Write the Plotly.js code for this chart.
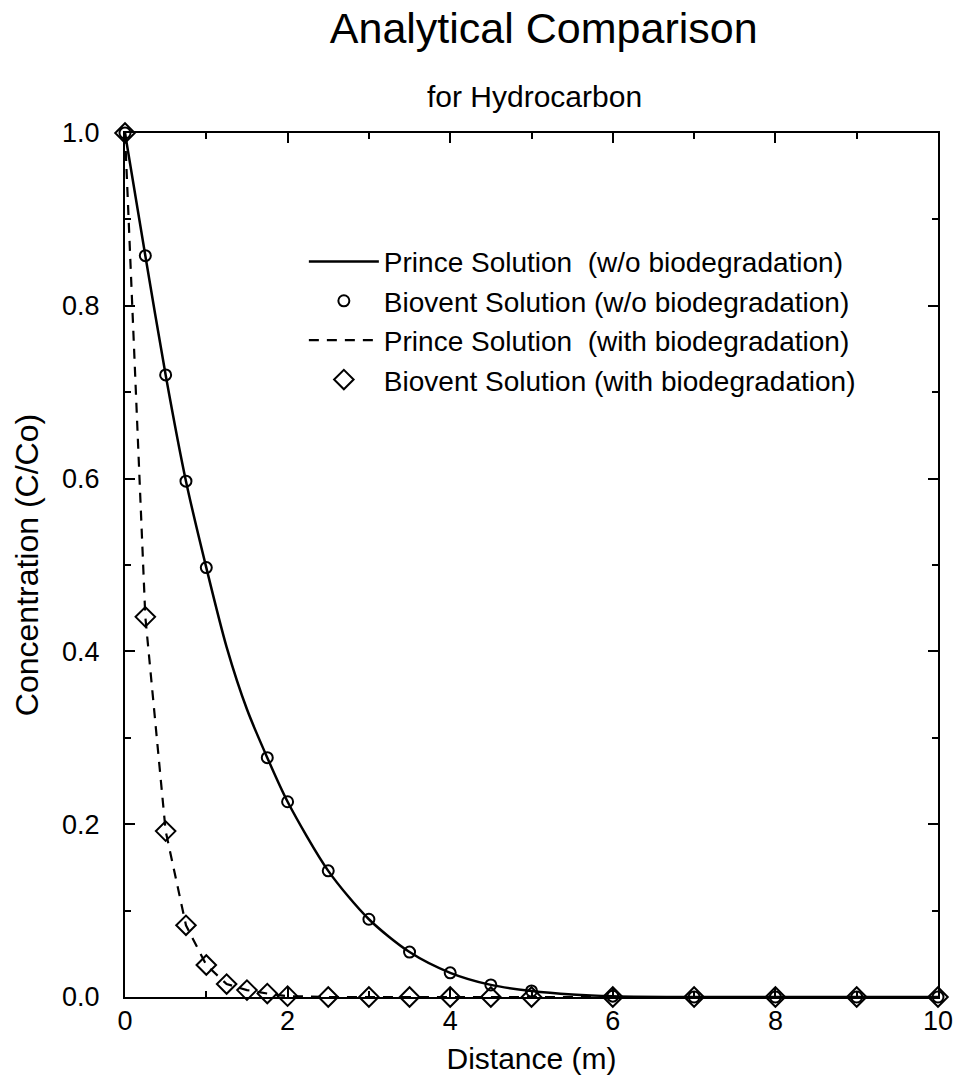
<!DOCTYPE html>
<html>
<head>
<meta charset="utf-8">
<script src="https://cdn.plot.ly/plotly-3.0.1.min.js"></script>
<style>html,body{margin:0;padding:0;background:#fff;}#chart{width:955px;height:1084px;}</style>
</head>
<body>
<div id="chart"></div>
<script>
// Prince solution (w/o biodegradation) - solid curve
const princeDist = [0, 0.25, 0.5, 0.75, 1.0, 1.25, 1.5, 1.75, 2.0, 2.5, 3.0, 3.5, 4.0, 4.5, 5.0, 5.5, 6, 7, 8, 9, 10];
const princeConc = [1.0, 0.858, 0.72, 0.597, 0.497, 0.405, 0.333, 0.277, 0.226, 0.146, 0.090, 0.052, 0.028, 0.014, 0.007, 0.003, 0.001, 0, 0, 0, 0];
// Biovent solution (w/o biodegradation) - circles
const bioventDist = [0, 0.25, 0.5, 0.75, 1.0, 1.75, 2.0, 2.5, 3.0, 3.5, 4.0, 4.5, 5.0, 6, 7, 8, 9, 10];
const bioventConc = [1.0, 0.858, 0.72, 0.597, 0.497, 0.277, 0.226, 0.146, 0.090, 0.052, 0.028, 0.014, 0.007, 0.001, 0, 0, 0, 0];
// Prince solution (with biodegradation) - dashed curve
const princeBioDist = [0, 0.25, 0.5, 0.75, 1.0, 1.25, 1.5, 1.75, 2.0, 2.5, 3.0, 3.5, 4.0, 4.5, 5.0, 6, 7, 8, 9, 10];
const princeBioConc = [1.0, 0.44, 0.192, 0.083, 0.037, 0.015, 0.008, 0.004, 0.001, 0, 0, 0, 0, 0, 0, 0, 0, 0, 0, 0];
// Biovent solution (with biodegradation) - diamonds
const bioventBioDist = [0, 0.25, 0.5, 0.75, 1.0, 1.25, 1.5, 1.75, 2.0, 2.5, 3.0, 3.5, 4.0, 4.5, 5.0, 6, 7, 8, 9, 10];
const bioventBioConc = [1.0, 0.44, 0.192, 0.083, 0.037, 0.015, 0.008, 0.004, 0.001, 0, 0, 0, 0, 0, 0, 0, 0, 0, 0, 0];

const titleText = 'Analytical Comparison';
const subtitleText = 'for Hydrocarbon';
const xTitle = 'Distance (m)';
const yTitle = 'Concentration (C/Co)';

const FONT = 'Liberation Sans, Arial, Helvetica, sans-serif';

const traces = [
  {x: princeDist, y: princeConc, mode: 'lines', name: 'Prince Solution  (w/o biodegradation)',
   line: {color: '#000', width: 2.5, shape: 'spline', smoothing: 0.8}, cliponaxis: false},
  {x: bioventDist, y: bioventConc, mode: 'markers', name: 'Biovent Solution (w/o biodegradation)',
   marker: {symbol: 'circle-open', size: 11, color: '#000', line: {width: 2, color: '#000'}}, cliponaxis: false},
  {x: princeBioDist, y: princeBioConc, mode: 'lines', name: 'Prince Solution  (with biodegradation)',
   line: {color: '#000', width: 2.2, dash: '10px,8px'}, cliponaxis: false},
  {x: bioventBioDist, y: bioventBioConc, mode: 'markers', name: 'Biovent Solution (with biodegradation)',
   marker: {symbol: 'diamond-open', size: 15, color: '#000', line: {width: 2, color: '#000'}}, cliponaxis: false}
];

const layout = {
  width: 955, height: 1084,
  paper_bgcolor: '#fff', plot_bgcolor: '#fff',
  font: {family: FONT, color: '#000', size: 27},
  margin: {l: 125, r: 17, t: 133, b: 87},
  title: {
    text: titleText,
    font: {family: FONT, size: 43, color: '#000'},
    x: 0.515, xref: 'paper', xanchor: 'center',
    y: 0.988, yref: 'container', yanchor: 'top'
  },
  annotations: [{
    text: subtitleText, showarrow: false,
    xref: 'paper', yref: 'paper', x: 0.504, y: 1.042,
    xanchor: 'center', yanchor: 'middle',
    font: {family: FONT, size: 30, color: '#000'}
  }],
  showlegend: true,
  legend: {
    x: 0.22, y: 0.88, xanchor: 'left', yanchor: 'top',
    bgcolor: 'rgba(0,0,0,0)', borderwidth: 0,
    font: {family: FONT, size: 28, color: '#000'},
    itemwidth: 70, tracegroupgap: 0
  },
  xaxis: {
    range: [0, 10], dtick: 2, tick0: 0,
    ticks: 'inside', ticklen: 10, tickwidth: 2, tickcolor: '#000',
    minor: {dtick: 1, ticks: 'inside', ticklen: 6, tickwidth: 2, tickcolor: '#000'},
    showline: true, linecolor: '#000', linewidth: 2, mirror: 'ticks',
    showgrid: false, zeroline: false,
    tickfont: {size: 27}, ticklabelstandoff: -1,
    title: {text: xTitle, font: {size: 30}, standoff: 13}
  },
  yaxis: {
    range: [0, 1], dtick: 0.2, tick0: 0, tickformat: '.1f',
    ticks: 'inside', ticklen: 10, tickwidth: 2, tickcolor: '#000',
    minor: {dtick: 0.1, ticks: 'inside', ticklen: 6, tickwidth: 2, tickcolor: '#000'},
    showline: true, linecolor: '#000', linewidth: 2, mirror: 'ticks',
    showgrid: false, zeroline: false,
    tickfont: {size: 27}, ticklabelstandoff: 18,
    title: {text: yTitle, font: {size: 32}, standoff: 14}
  }
};

Plotly.newPlot('chart', traces, layout, {displayModeBar: false, staticPlot: true});
</script>
</body>
</html>
